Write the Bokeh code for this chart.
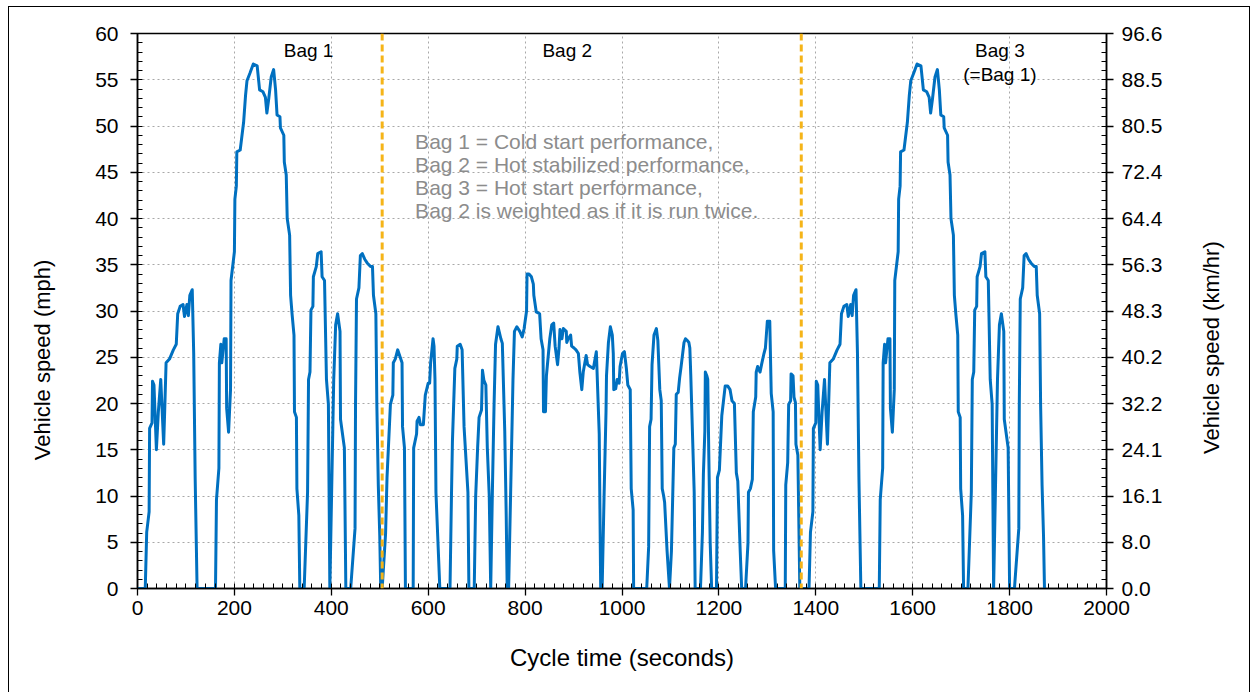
import math
from bokeh.plotting import figure
from bokeh.models import Range1d, LinearAxis, FixedTicker, Span, Label
from bokeh.embed import file_html
from bokeh.resources import INLINE

# ---------------- data ----------------
bag1_time = [0, 16, 19, 24, 25, 30, 31, 34, 39, 43, 48, 54, 56, 59, 66, 74, 80, 83, 88, 94,
             97, 102, 105, 108, 113, 114, 116, 119, 123, 161, 163, 168, 169, 172, 174, 179, 183,
             184, 188, 192, 193, 200, 201, 204, 205, 212, 219, 223, 226, 232, 239, 247, 252, 259,
             264, 267, 271, 276, 281, 285, 288, 294, 295, 302, 303, 307, 309, 314, 316, 319, 323,
             324, 328, 329, 333, 335, 344, 351, 353, 356, 358, 362, 363, 369, 372, 379, 381, 386,
             390, 394, 397, 405, 409, 413, 418, 419, 427, 430, 440, 449, 450, 452, 457, 460, 464,
             469, 474, 481, 485, 487, 492, 494, 497, 500, 502, 505]
bag1_mph = [0, 0, 6.1, 8.3, 17.3, 17.9, 22.4, 22.0, 15.0, 19.1, 22.6, 15.6, 19.0, 24.4, 24.8, 25.8,
            26.4, 29.7, 30.5, 30.7, 29.4, 30.7, 29.5, 31.7, 32.3, 30.0, 25.4, 12.0, 0, 0, 9.6, 13.0,
            24.4, 26.4, 24.4, 27.0, 27.0, 19.5, 16.9, 21.5, 33.3, 36.4, 42.1, 43.5, 47.2, 47.4, 50.4,
            53.3, 54.9, 55.7, 56.7, 56.5, 53.9, 53.7, 53.1, 51.4, 53.0, 55.3, 56.1, 53.9, 51.2, 51.0,
            49.8, 49.0, 46.1, 44.7, 40.0, 38.2, 31.7, 29.7, 27.4, 19.1, 18.5, 10.8, 7.9, 0, 0, 10.4,
            22.6, 23.4, 30.1, 30.5, 33.7, 34.8, 36.2, 36.4, 33.7, 33.3, 22.6, 19.9, 0, 22.6, 28.5,
            29.7, 27.8, 18.3, 15.2, 0, 0, 6.5, 19.9, 31.3, 32.5, 36.0, 36.2, 35.6, 35.2, 34.8, 34.8,
            31.7, 29.7, 19.9, 11.2, 5.7, 0, 0]

bag2_time = [505, 512, 515, 522, 527, 528, 532, 537, 541, 546, 547, 551, 553, 569, 570, 576, 577,
             581, 584, 590, 594, 600, 603, 605, 610, 612, 614, 616, 624, 645, 648, 650, 655, 659,
             660, 666, 670, 674, 682, 684, 695, 698, 702, 705, 710, 712, 715, 719, 722, 726, 729,
             733, 736, 739, 744, 750, 753, 758, 761, 763, 766, 770, 773, 775, 778, 783, 789, 794,
             798, 803, 804, 808, 813, 817, 818, 823, 830, 833, 837, 838, 842, 844, 851, 855, 859,
             862, 867, 870, 872, 876, 879, 885, 886, 889, 894, 896, 901, 905, 910, 913, 917, 920,
             926, 929, 934, 941, 947, 948, 953, 956, 959, 963, 967, 968, 972, 976, 980, 982, 983,
             987, 990, 994, 996, 1001, 1005, 1009, 1012, 1017, 1019, 1023, 1024, 1051, 1055, 1057,
             1060, 1062, 1066, 1071, 1074, 1078, 1081, 1083, 1086, 1088, 1093, 1098, 1102, 1107,
             1110, 1112, 1116, 1119, 1122, 1128, 1131, 1135, 1138, 1140, 1142, 1149, 1151, 1162,
             1166, 1168, 1171, 1172, 1175, 1177, 1179, 1182, 1185, 1195, 1197, 1201, 1206, 1213,
             1218, 1223, 1227, 1232, 1236, 1239, 1244, 1247, 1255, 1260, 1261, 1265, 1269, 1271,
             1276, 1277, 1280, 1285, 1288, 1293, 1296, 1300, 1305, 1308, 1312, 1313, 1317, 1337,
             1338, 1342, 1344, 1348, 1349, 1353, 1355, 1358, 1359, 1363, 1367, 1370]
bag2_mph = [0, 5.9, 12.0, 19.9, 20.9, 24.4, 24.8, 25.8, 25.2, 24.4, 17.5, 15.2, 0, 0, 15.2, 16.7,
            18.1, 18.5, 17.7, 17.7, 20.9, 22.2, 22.2, 24.4, 27.0, 26.2, 22.6, 10.4, 0, 0, 10.0, 15.9,
            23.8, 24.8, 26.2, 26.4, 25.8, 17.5, 10.4, 0, 0, 10.0, 15.2, 18.5, 19.3, 23.6, 22.5, 22.0,
            15.2, 10.0, 0, 12.0, 20.0, 26.4, 28.3, 27.0, 26.5, 17.0, 8.0, 0, 0, 10.0, 17.5, 22.6,
            27.8, 28.3, 27.8, 27.2, 28.1, 30.0, 34.0, 34.0, 33.7, 32.9, 31.7, 29.9, 29.7, 27.0, 25.8,
            19.1, 19.1, 23.0, 27.0, 28.5, 28.7, 26.2, 24.2, 26.0, 28.0, 27.0, 28.1, 27.8, 26.6, 27.0,
            27.4, 26.2, 26.0, 25.8, 25.4, 23.4, 21.5, 23.4, 25.2, 24.2, 24.0, 23.8, 25.6, 24.2, 16.7,
            0, 0, 10.0, 19.1, 23.0, 26.6, 28.3, 27.4, 25.4, 21.5, 21.6, 22.6, 22.2, 24.0, 25.4, 25.6,
            23.8, 22.0, 21.5, 10.8, 8.5, 0, 0, 4.5, 17.5, 18.3, 24.2, 27.4, 28.1, 26.8, 21.5, 20.3,
            10.8, 10.0, 9.3, 4.1, 0, 4.0, 15.2, 15.6, 21.0, 21.2, 22.8, 24.0, 26.6, 27.0, 26.8, 26.6,
            26.0, 23.0, 10.4, 0, 0, 6.1, 12.4, 17.0, 23.4, 23.0, 22.6, 15.0, 5.0, 0, 0, 12.0, 12.8,
            18.7, 21.9, 21.9, 21.5, 20.3, 20.0, 12.5, 11.6, 4.0, 0, 0, 4.9, 10.4, 10.8, 11.8, 19.1,
            20.7, 23.4, 24.0, 23.4, 24.2, 25.4, 26.0, 28.9, 28.9, 21.1, 19.1, 4.1, 0, 0, 11.2, 13.6,
            19.9, 20.3, 23.2, 23.0, 20.7, 20.1, 15.6, 14.4, 0, 0]

bag3_start = 1370            # Bag 3 repeats Bag 1 (chart: "Bag 3 (=Bag 1)")
bag_bounds = [505, 1370]
x_ticks = list(range(0, 2001, 200))
y_ticks_mph = list(range(0, 61, 5))
kmh_labels = ["0.0", "8.0", "16.1", "24.1", "32.2", "40.2", "48.3", "56.3",
              "64.4", "72.4", "80.5", "88.5", "96.6"]
bag_titles = ["Bag 1", "Bag 2", "Bag 3", "(=Bag 1)"]
note_lines = ["Bag 1 = Cold start performance,",
              "Bag 2 = Hot stabilized performance,",
              "Bag 3 = Hot start performance,",
              "Bag 2 is weighted as if it is run twice."]

time_s = bag1_time + bag2_time + [t + bag3_start for t in bag1_time]
speed_mph = bag1_mph + bag2_mph + bag1_mph

FONT = "Liberation Sans"
NBSP = "\u00a0"

# ---------------- figure ----------------
p = figure(width=1242, height=686, x_range=Range1d(0, 2000), y_range=Range1d(0, 60),
           output_backend="svg", toolbar_location=None,
           min_border_left=128, min_border_right=145, min_border_top=26, min_border_bottom=105)
p.margin = (6, 0, 0, 8)
p.styles = {"border-left": "1px solid black", "border-top": "1px solid black",
            "border-right": "1px solid black"}
p.background_fill_color = "white"
p.border_fill_color = "white"
p.outline_line_color = "black"
p.outline_line_width = 1.5

# grids
p.xgrid.ticker = FixedTicker(ticks=x_ticks)
p.ygrid.ticker = FixedTicker(ticks=y_ticks_mph)
for g in (p.xgrid[0], p.ygrid[0]):
    g.grid_line_color = "#a8a8a8"
    g.grid_line_dash = "2 3"
    g.grid_line_width = 1

# axes
left = p.left[0]
bottom = p.below[0]
bottom.ticker = FixedTicker(ticks=x_ticks, minor_ticks=list(range(0, 2001, 20)))
left.ticker = FixedTicker(ticks=y_ticks_mph, minor_ticks=list(range(0, 61)))
right = LinearAxis(ticker=FixedTicker(ticks=y_ticks_mph, minor_ticks=list(range(0, 61))),
                   major_label_overrides={t: s for t, s in zip(y_ticks_mph, kmh_labels)})
p.add_layout(right, "right")

bottom.axis_label = "Cycle time (seconds)"
left.axis_label = "Vehicle speed (mph)" + NBSP * 16
right.axis_label = NBSP * 22 + "Vehicle speed (km/hr)"
right.axis_label_orientation = math.pi / 2
right.axis_label_align = "start"

for ax in (bottom, left, right):
    ax.axis_line_color = "black"
    ax.axis_line_width = 1.5
    ax.major_tick_line_color = "black"
    ax.minor_tick_line_color = "black"
    ax.major_tick_line_width = 1.3
    ax.minor_tick_line_width = 1
    ax.major_tick_in = 0
    ax.major_tick_out = 7
    ax.minor_tick_in = 5
    ax.minor_tick_out = 0
    ax.major_label_text_font = FONT
    ax.major_label_text_font_size = "21px"
    ax.major_label_text_color = "black"
    ax.axis_label_text_font = FONT
    ax.axis_label_text_font_size = "22px"
    ax.axis_label_text_font_style = "normal"
    ax.axis_label_text_color = "black"

bottom.axis_label_text_font_size = "24px"
bottom.major_label_standoff = 5
bottom.axis_label_standoff = 26
left.major_label_standoff = 12
left.axis_label_standoff = 37
right.major_label_standoff = 8
right.axis_label_standoff = 46

# bag separators
for b in bag_bounds:
    p.add_layout(Span(location=b, dimension="height", line_color="#F5B418",
                      line_dash="7 4", line_width=3))

# speed trace
p.line(time_s, speed_mph, line_color="#0070C0", line_width=3, line_join="round")

# bag titles
title_pos = [(353, 58.2), (887, 58.2), (1780, 58.2), (1780, 55.6)]
for txt, (x, y) in zip(bag_titles, title_pos):
    p.add_layout(Label(x=x, y=y, text=txt, text_align="center", text_baseline="middle",
                       text_font=FONT, text_font_size="19px", text_color="black"))

# note
for i, line in enumerate(note_lines):
    p.add_layout(Label(x=573, y=48.3 - 2.48 * i, text=line, text_align="left",
                       text_baseline="middle", text_font=FONT, text_font_size="21px",
                       text_color="#8c8c8c"))

open("out.html", "w").write(file_html(p, INLINE))
